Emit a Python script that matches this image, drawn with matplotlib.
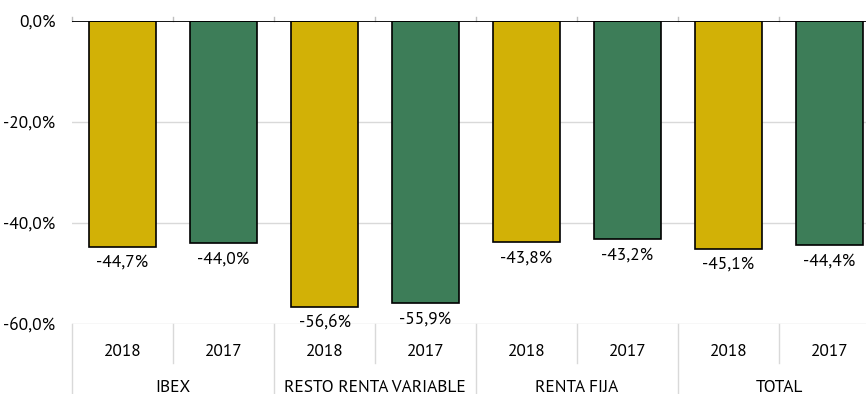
import matplotlib
matplotlib.use("Agg")
import matplotlib.pyplot as plt

plt.rcParams['font.family'] = ['Source Sans Pro', 'PT Sans', 'DejaVu Sans']

groups = ["IBEX", "RESTO RENTA VARIABLE", "RENTA FIJA", "TOTAL"]
years = ["2018", "2017"]
values_2018 = [-44.7, -56.6, -43.8, -45.1]
values_2017 = [-44.0, -55.9, -43.2, -44.4]
yticks = [0, -20, -40, -60]

gold = "#D2B106"
green = "#3D7D58"
grid_c = "#D9D9D9"
fs = 12.5

fig = plt.figure(figsize=(8.66, 3.94), dpi=100)
W, H = 866, 394
ax = fig.add_axes([72 / W, (H - 324) / H, 808 / W, 303 / H])

xs, vals, cols, labels = [], [], [], []
for i in range(len(groups)):
    for j, (v, c) in enumerate(((values_2018[i], gold), (values_2017[i], green))):
        xs.append(2 * i + j + 0.5)
        vals.append(v)
        cols.append(c)
        labels.append(years[j])

ax.bar(xs, vals, width=0.66, color=cols, edgecolor="black", linewidth=1.2, zorder=3)
for x, v in zip(xs, vals):
    ax.text(x, v - 3.2, f"{v:.1f}%".replace(".", ","), ha="center", va="center",
            fontsize=fs, color="black", zorder=4)

ax.set_xlim(0, 2 * len(groups))
ax.set_ylim(-60, 0)
ax.set_yticks(yticks)
ax.set_yticklabels([f"{t:.1f}%".replace(".", ",") for t in yticks], fontsize=fs)
ax.tick_params(axis="y", length=0, pad=12)
ax.set_xticks([])
for s in ax.spines.values():
    s.set_visible(False)
for t in yticks[1:]:
    ax.axhline(t, color=grid_c, linewidth=1, zorder=1)
ax.axhline(0, color="black", linewidth=1.3, zorder=5)

# small ticks above the zero line at category boundaries
for k in range(2 * len(groups) + 1):
    ax.plot([k, k], [0, 0.8], color="#BFBFBF", linewidth=1, clip_on=False, zorder=2)

# two-level category axis below the plot
for k in range(2 * len(groups) + 1):
    bottom = -75 if k % 2 == 0 else -67.7
    ax.plot([k, k], [-60, bottom], color=grid_c, linewidth=1, clip_on=False)
for x, lab in zip(xs, labels):
    ax.text(x, -65.6, lab, ha="center", va="center", fontsize=fs, clip_on=False)
for i, g in enumerate(groups):
    ax.text(2 * i + 1, -73.4, g, ha="center", va="baseline", fontsize=fs, clip_on=False)

fig.savefig("out.png", dpi=100)
